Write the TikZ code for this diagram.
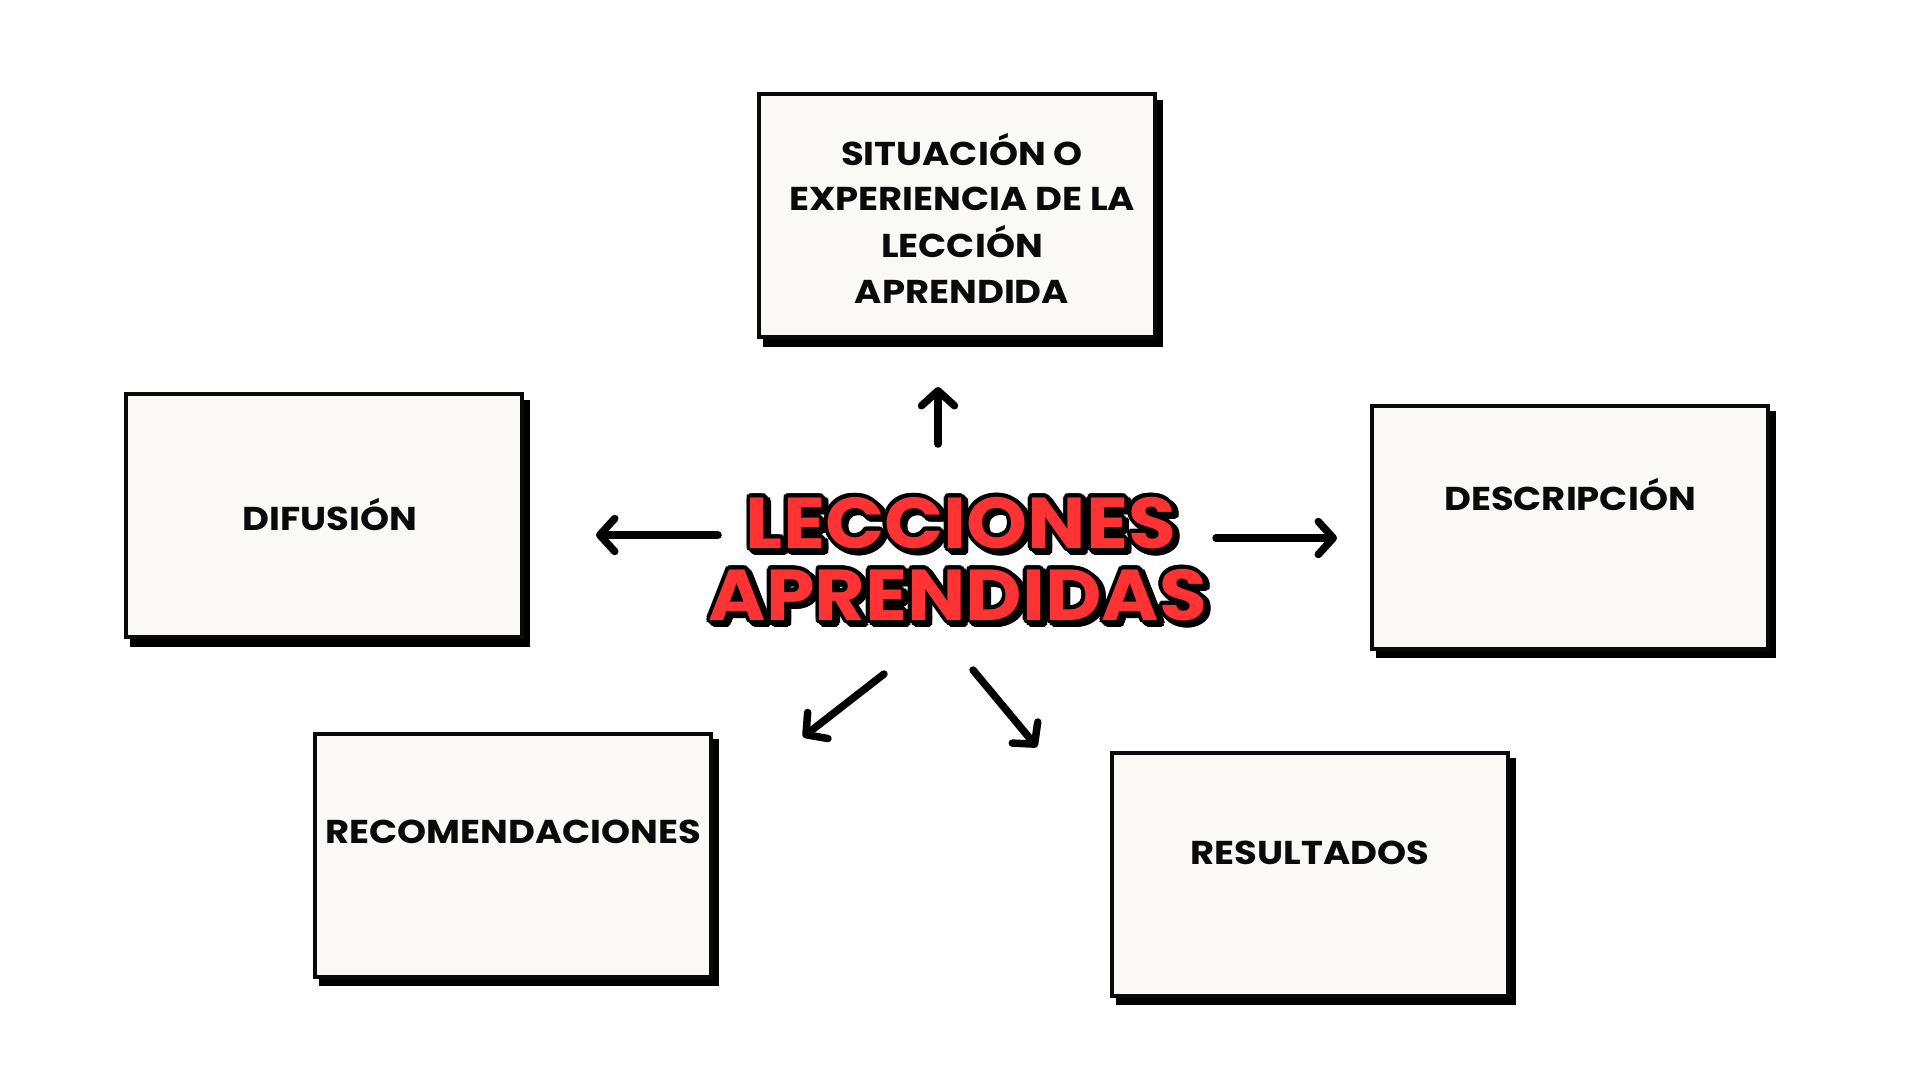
\documentclass[tikz,border=0pt]{standalone}
\usepackage{fontspec}
\setmainfont{Poppins}
\newfontfamily\lblfont{Poppins}[FakeStretch=1.12]
\newfontfamily\ttlfont{Poppins}[FakeStretch=1.08]
\usetikzlibrary{arrows.meta,shadows,calc}
\definecolor{boxfill}{RGB}{250,249,245}
\definecolor{titlered}{RGB}{255,51,51}
\definecolor{ink}{RGB}{10,10,10}
\begin{document}
\begin{tikzpicture}[x=1pt,y=-1pt,
  card/.style={draw=ink, line width=4pt, fill=boxfill, minimum width=396pt, minimum height=243pt, inner sep=0pt,
    copy shadow={shadow xshift=6pt, shadow yshift=-7.5pt, fill=black, draw=black}},
  lbl/.style={font=\lblfont\bfseries\fontsize{33}{46}\selectfont, text=ink, anchor=base, inner sep=0pt},
  ttl/.style={font=\ttlfont\bfseries\fontsize{72}{72}\selectfont, anchor=base, inner sep=0pt},
  arr/.style={line width=7.5pt, line cap=round, draw=black, -{Straight Barb[length=15pt,width=33pt,round]}}]
\fill[white] (0,0) rectangle (1920,1080);
\useasboundingbox (0,0) rectangle (1920,1080);

% boxes
\node[card] (top) at (957,215.5) {};
\node[card] (dif) at (324,515.5) {};
\node[card] (desc) at (1570,527) {};
\node[card] (rec) at (513,855) {};
\node[card] (res) at (1310,874) {};

% labels
\node[lbl] (top1) at (962,165) {SITUACIÓN O};
\node[lbl] (top2) at (962,210.5) {EXPERIENCIA DE LA};
\node[lbl] (top3) at (962,257) {LECCIÓN};
\node[lbl] (top4) at (962,303) {APRENDIDA};
\node[lbl] (difl) at (330,530) {DIFUSIÓN};
\node[lbl] (descl) at (1570,510) {DESCRIPCIÓN};
\node[lbl] (recl) at (513,843) {RECOMENDACIONES};
\node[lbl] (resl) at (1310,864) {RESULTADOS};

% title with outline and shadow
\coordinate (t1) at (961,548);
\coordinate (t2) at (958,620);
\foreach \a in {0,24,...,336} {
  \node[ttl, text=black] (t1s\a) at ($(t1)+(3.5,3.5)+(\a:3.8)$) {LECCIONES};
  \node[ttl, text=black] (t2s\a) at ($(t2)+(3.5,3.5)+(\a:3.8)$) {APRENDIDAS};
}
\foreach \a in {0,24,...,336} {
  \node[ttl, text=black] (t1o\a) at ($(t1)+(\a:3.8)$) {LECCIONES};
  \node[ttl, text=black] (t2o\a) at ($(t2)+(\a:3.8)$) {APRENDIDAS};
}
\node[ttl, text=titlered] (title1) at (t1) {LECCIONES};
\node[ttl, text=titlered] (title2) at (t2) {APRENDIDAS};

% arrows
\coordinate (uA) at (938,444); \coordinate (uB) at (938,387);
\coordinate (lA) at (718,535); \coordinate (lB) at (596,535);
\coordinate (rA) at (1216,538); \coordinate (rB) at (1337,538);
\coordinate (dlA) at (884,674); \coordinate (dlB) at (803,737);
\coordinate (drA) at (973,670); \coordinate (drB) at (1037,747);
\draw[arr] (uA) -- (uB);
\draw[arr] (lA) -- (lB);
\draw[arr] (rA) -- (rB);
\draw[arr] (dlA) -- (dlB);
\draw[arr] (drA) -- (drB);
\end{tikzpicture}
\end{document}
